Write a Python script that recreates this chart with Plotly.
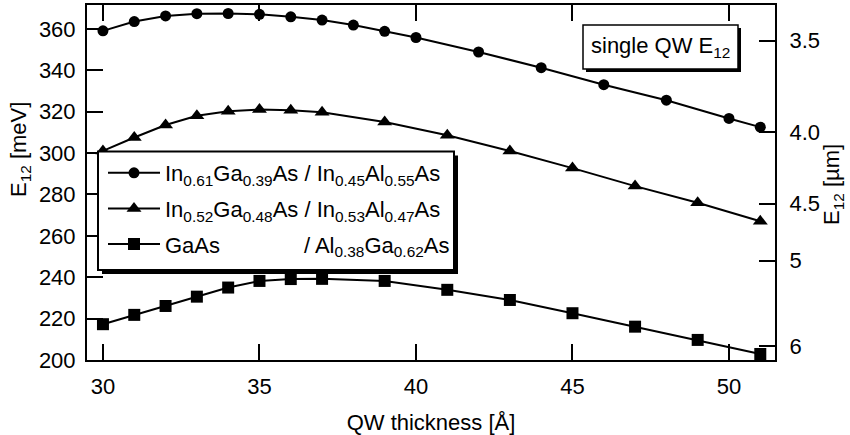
import plotly.graph_objects as go

# ---- data ----
x_circ = [30, 31, 32, 33, 34, 35, 36, 37, 38, 39, 40, 42, 44, 46, 48, 50, 51]
e_circ = [359.0, 363.5, 366.2, 367.3, 367.4, 367.0, 365.8, 364.2, 361.8, 358.8, 355.8,
          348.8, 341.2, 333.0, 325.5, 316.7, 312.5]

x_tri = [30, 31, 32, 33, 34, 35, 36, 37, 39, 41, 43, 45, 47, 49, 51]
e_tri = [301.0, 307.5, 313.5, 318.0, 320.2, 321.0, 320.7, 319.7, 315.0, 308.6,
         301.0, 292.7, 284.0, 276.0, 267.0]

x_sq = [30, 31, 32, 33, 34, 35, 36, 37, 39, 41, 43, 45, 47, 49, 51]
e_sq = [217.3, 221.8, 226.1, 230.6, 235.0, 238.2, 239.1, 239.2, 238.2, 233.9,
        229.0, 222.6, 216.1, 209.7, 202.9]

names = [
    "In<sub>0.61</sub>Ga<sub>0.39</sub>As / In<sub>0.45</sub>Al<sub>0.55</sub>As",
    "In<sub>0.52</sub>Ga<sub>0.48</sub>As / In<sub>0.53</sub>Al<sub>0.47</sub>As",
    "GaAs" + "\u00a0" * 13 + "\u2009/ Al<sub>0.38</sub>Ga<sub>0.62</sub>As",
]

x_ticks = [30, 35, 40, 45, 50]
y_ticks = [200, 220, 240, 260, 280, 300, 320, 340, 360]
wl_ticks = [3.5, 4.0, 4.5, 5, 6]
wl_labels = ["3.5", "4.0", "4.5", "5", "6"]
HC = 1239.84  # meV * um
wl_pos = [HC / w for w in wl_ticks]

FONT = "Arial, Liberation Sans, sans-serif"
FS = 22

# plot-area geometry in px
L, R, T, B = 87, 775, 5, 360
W, H = 850, 435


def px_x(p):
    return (p - L) / (R - L)


def px_y(p):
    return (B - p) / (B - T)


fig = go.Figure()
series = [
    (x_circ, e_circ, "circle", 11),
    (x_tri, e_tri, "triangle-up", 13),
    (x_sq, e_sq, "square", 12),
]
for i, (xs, ys, sym, sz) in enumerate(series):
    fig.add_trace(go.Scatter(
        x=xs, y=ys, mode="lines+markers", name=names[i],
        legendgroup=str(i),
        line=dict(color="black", width=2),
        marker=dict(symbol=sym, size=sz, color="black"),
    ))

# invisible trace to activate right axis
fig.add_trace(go.Scatter(x=x_sq, y=e_sq, yaxis="y2", mode="lines",
                         line=dict(width=0), opacity=0, showlegend=False,
                         hoverinfo="skip"))

shapes = []
# legend box with shadow
lb = (98, 151.5, 454, 270)
shapes.append(dict(type="rect", xref="paper", yref="paper",
                   x0=px_x(lb[0] + 4), x1=px_x(lb[2] + 4),
                   y0=px_y(lb[1] + 4), y1=px_y(lb[3] + 4),
                   fillcolor="black", line=dict(width=0), layer="above"))
shapes.append(dict(type="rect", xref="paper", yref="paper",
                   x0=px_x(lb[0]), x1=px_x(lb[2]),
                   y0=px_y(lb[1]), y1=px_y(lb[3]),
                   fillcolor="white", line=dict(color="black", width=2), layer="above"))
# info box with shadow
ib = (583, 25, 738, 69)
shapes.append(dict(type="rect", xref="paper", yref="paper",
                   x0=px_x(ib[0] + 3), x1=px_x(ib[2] + 3),
                   y0=px_y(ib[1] + 3), y1=px_y(ib[3] + 3),
                   fillcolor="black", line=dict(width=0), layer="above"))
shapes.append(dict(type="rect", xref="paper", yref="paper",
                   x0=px_x(ib[0]), x1=px_x(ib[2]),
                   y0=px_y(ib[1]), y1=px_y(ib[3]),
                   fillcolor="white", line=dict(color="black", width=1.5), layer="above"))

annotations = [
    dict(text="single QW E<sub>12</sub>", xref="paper", yref="paper",
         x=px_x((ib[0] + ib[2]) / 2), y=px_y((ib[1] + ib[3]) / 2),
         showarrow=False, font=dict(family=FONT, size=FS, color="black"),
         xanchor="center", yanchor="middle"),
    dict(text="E<sub>12</sub> [meV]", xref="paper", yref="paper",
         x=px_x(20), y=px_y(150), textangle=-90, showarrow=False,
         font=dict(family=FONT, size=FS, color="black"),
         xanchor="center", yanchor="middle"),
    dict(text="E<sub>12</sub> [µm]", xref="paper", yref="paper",
         x=px_x(833), y=px_y(185), textangle=-90, showarrow=False,
         font=dict(family=FONT, size=FS, color="black"),
         xanchor="center", yanchor="middle"),
]

axis_common = dict(showgrid=False, zeroline=False, showline=True, linewidth=2,
                   linecolor="black", ticks="inside", ticklen=16, tickwidth=2,
                   tickcolor="black", automargin=False,
                   tickfont=dict(family=FONT, size=FS, color="black"))

fig.update_layout(
    width=W, height=H,
    margin=dict(l=L, r=W - R, t=T, b=H - B, autoexpand=False),
    paper_bgcolor="white", plot_bgcolor="white",
    font=dict(family=FONT, size=FS, color="black"),
    xaxis=dict(range=[29.49, 51.47], tickvals=x_ticks, mirror="ticks",
               ticklabelstandoff=6,
               title=dict(text="QW thickness [Å]", standoff=16,
                          font=dict(family=FONT, size=FS)),
               **axis_common),
    yaxis=dict(range=[200, 371.5], tickvals=y_ticks, ticklabelstandoff=5,
               **axis_common),
    yaxis2=dict(range=[200, 371.5], overlaying="y", side="right",
                tickvals=wl_pos, ticktext=wl_labels, ticklabelstandoff=8,
                **axis_common),
    legend=dict(x=px_x(103), y=px_y(152), xanchor="left", yanchor="top",
                bgcolor="rgba(0,0,0,0)", borderwidth=0, itemwidth=52,
                tracegroupgap=4, traceorder="grouped",
                font=dict(family=FONT, size=FS, color="black")),
    shapes=shapes,
    annotations=annotations,
    showlegend=True,
)

fig.write_html(
    "out.html",
    config={"displayModeBar": False},
    post_script="document.body.style.margin='0';document.body.style.overflow='hidden';",
)
